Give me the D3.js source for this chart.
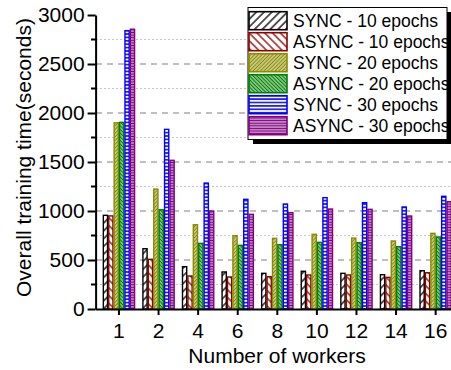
<!DOCTYPE html>
<html>
<head>
<meta charset="utf-8">
<script src="https://cdn.jsdelivr.net/npm/d3@7"></script>
<style>
body { margin: 0; background: #fff; }
text { font-family: "Liberation Sans", Arial, sans-serif; fill: #000; }
</style>
</head>
<body>
<div id="main-vis"></div>
<script>
// values (seconds)
var categories = ["1", "2", "4", "6", "8", "10", "12", "14", "16"];
var seriesNames = ["SYNC - 10 epochs", "ASYNC - 10 epochs", "SYNC - 20 epochs",
     "ASYNC - 20 epochs", "SYNC - 30 epochs", "ASYNC - 30 epochs"];
var sync10 = [956, 615, 432, 378, 364, 385, 364, 350, 391];
var async10 = [950, 507, 337, 327, 330, 347, 347, 323, 370];
var sync20 = [1900, 1224, 860, 748, 721, 762, 724, 694, 772];
var async20 = [1905, 1013, 670, 650, 656, 680, 677, 636, 735];
var sync30 = [2840, 1833, 1285, 1119, 1071, 1136, 1085, 1041, 1150];
var async30 = [2855, 1517, 1000, 966, 983, 1020, 1017, 949, 1095];
var yTicks = [0, 500, 1000, 1500, 2000, 2500, 3000];
var yMinor = [250, 750, 1250, 1750, 2250, 2750];

var seriesValues = [sync10, async10, sync20, async20, sync30, async30];
var colors = ["#000000", "#8b0000", "#8b8b00", "#008000", "#0000ff", "#800080"];

var width = 451, height = 370;

var svg = d3.select("#main-vis").append("svg")
     .attr("width", width)
     .attr("height", height);

// hatch patterns
var defs = svg.append("defs");
function hatch(id, bg, fg, size, angle, sw) {
     var p = defs.append("pattern")
          .attr("id", id)
          .attr("patternUnits", "userSpaceOnUse")
          .attr("width", size).attr("height", size)
          .attr("patternTransform", "rotate(" + angle + ")");
     p.append("rect").attr("width", size).attr("height", size).attr("fill", bg);
     p.append("line").attr("x1", 0).attr("y1", 0).attr("x2", size).attr("y2", 0)
          .attr("stroke", fg).attr("stroke-width", sw);
     p.append("line").attr("x1", 0).attr("y1", size).attr("x2", size).attr("y2", size)
          .attr("stroke", fg).attr("stroke-width", sw);
}
hatch("p0", "#fff", "#000", 5.5, -45, 1.3);
hatch("p1", "#fff", "#8b0000", 5.5, 45, 1.3);
hatch("p2", "#8b8b00", "#fff", 2.6, -45, 0.9);
hatch("p3", "#008000", "#fff", 2.6, 45, 0.9);
hatch("p4", "#fff", "#0000ff", 3.4, 0, 1.5);
hatch("p5", "#800080", "#fff", 2.6, 0, 0.9);

var y = d3.scaleLinear().domain([0, 3000]).range([309, 15]);
var x = d3.scaleBand().domain(categories).range([95.6, 459]).paddingInner(0.18).paddingOuter(0.18);
var xs = d3.scaleBand().domain(d3.range(6)).range([0, x.bandwidth()]);

// grid lines
svg.append("g").selectAll("line")
     .data(yTicks.filter(function (d) { return d > 0 && d < 3000; }))
     .enter().append("line")
     .attr("x1", 96).attr("x2", width)
     .attr("y1", function (d) { return y(d); })
     .attr("y2", function (d) { return y(d); })
     .attr("stroke", "#808080").attr("stroke-width", 1.2)
     .attr("stroke-dasharray", "6,5");
svg.append("g").selectAll("line")
     .data(yMinor)
     .enter().append("line")
     .attr("x1", 96).attr("x2", width)
     .attr("y1", function (d) { return y(d); })
     .attr("y2", function (d) { return y(d); })
     .attr("stroke", "#c8c8c8").attr("stroke-width", 1)
     .attr("stroke-dasharray", "2,2");

// bars
seriesValues.forEach(function (vals, s) {
     svg.append("g").selectAll("rect")
          .data(vals)
          .enter().append("rect")
          .attr("x", function (d, i) { return x(categories[i]) + xs(s) + 0.6; })
          .attr("width", xs.bandwidth() - 1.2)
          .attr("y", function (d) { return y(d); })
          .attr("height", function (d) { return y(0) - y(d); })
          .attr("fill", "url(#p" + s + ")")
          .attr("stroke", colors[s])
          .attr("stroke-width", 1.4);
});

// axes
var xAxis = svg.append("g")
     .attr("transform", "translate(0,309)")
     .call(d3.axisBottom(x).tickSize(6).tickSizeOuter(0).tickPadding(8));
xAxis.select(".domain").attr("stroke-width", 2);
xAxis.selectAll(".tick line").attr("stroke-width", 2);
xAxis.selectAll("text").attr("font-size", 21);

var yAxis = svg.append("g")
     .attr("transform", "translate(95.6,0)")
     .call(d3.axisLeft(y).tickValues(yTicks).tickFormat(d3.format("d"))
          .tickSize(8).tickSizeOuter(0).tickPadding(3));
yAxis.select(".domain").attr("stroke-width", 2);
yAxis.selectAll(".tick line").attr("stroke-width", 2);
yAxis.selectAll("text").attr("font-size", 21);
svg.append("g").selectAll("line")
     .data(yMinor)
     .enter().append("line")
     .attr("x1", 91).attr("x2", 96)
     .attr("y1", function (d) { return y(d); })
     .attr("y2", function (d) { return y(d); })
     .attr("stroke", "#000").attr("stroke-width", 2);

svg.append("text")
     .attr("transform", "translate(30.5,157.5) rotate(-90)")
     .attr("text-anchor", "middle")
     .attr("font-size", 21)
     .text("Overall training time(seconds)");
svg.append("text")
     .attr("x", 277).attr("y", 363)
     .attr("text-anchor", "middle")
     .attr("font-size", 21)
     .text("Number of workers");

// legend
var legend = svg.append("g");
legend.append("rect").attr("x", 253).attr("y", 12).attr("width", 198).attr("height", 132).attr("fill", "#000");
legend.append("rect").attr("x", 248).attr("y", 7.5).attr("width", 199).attr("height", 132)
     .attr("fill", "#fff").attr("stroke", "#000").attr("stroke-width", 1);
var rows = legend.selectAll("g.row")
     .data(seriesNames)
     .enter().append("g")
     .attr("transform", function (d, i) { return "translate(0," + (11.7 + i * 21) + ")"; });
rows.append("rect")
     .attr("x", 249).attr("y", 0).attr("width", 38).attr("height", 18)
     .attr("fill", function (d, i) { return "url(#p" + i + ")"; })
     .attr("stroke", function (d, i) { return colors[i]; })
     .attr("stroke-width", 1.6);
rows.append("text")
     .attr("x", 293).attr("y", 15.5)
     .attr("font-size", 17.5)
     .text(function (d) { return d; });
</script>
</body>
</html>
